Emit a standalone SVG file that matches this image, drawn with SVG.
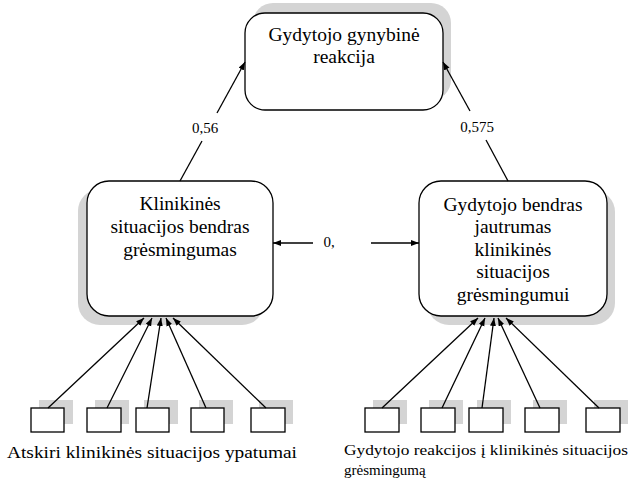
<svg xmlns="http://www.w3.org/2000/svg" width="631" height="483" viewBox="0 0 631 483">
<style>
.box{fill:#fff;stroke:#000;stroke-width:1.3}
.sh{fill:#d4d4d4;stroke:none}
.t{font-family:"Liberation Serif","Times New Roman",serif;fill:#000;text-anchor:middle}
.big{font-size:19.5px}
.lbl{font-size:15px}
.edge{stroke:#000;stroke-width:1.3;fill:none}
</style>
<defs>
<marker id="ah" markerWidth="9" markerHeight="7" refX="8" refY="3" orient="auto" markerUnits="userSpaceOnUse">
<path d="M0,0 L8,3 L0,6 z" fill="#000"/>
</marker>
</defs>
<rect width="631" height="483" fill="#fff"/>

<g id="top">
<rect class="sh" x="253" y="3" width="198" height="97" rx="20"/>
<rect class="box" x="245" y="13" width="198" height="97" rx="20"/>
<text class="t big" x="344" y="41">Gydytojo gynybinė</text>
<text class="t big" x="344" y="63">reakcija</text>
</g>

<g id="left">
<rect class="sh" x="78" y="189" width="186" height="136" rx="22"/>
<rect class="box" x="87" y="181" width="186" height="135" rx="22"/>
<text class="t big" x="180" y="210">Klinikinės</text>
<text class="t big" x="180" y="233">situacijos bendras</text>
<text class="t big" x="180" y="256">grėsmingumas</text>
</g>

<g id="right">
<rect class="sh" x="427" y="190" width="188" height="135" rx="22"/>
<rect class="box" x="419" y="181" width="188" height="135" rx="22"/>
<text class="t big" x="513" y="211">Gydytojo bendras</text>
<text class="t big" x="513" y="233">jautrumas</text>
<text class="t big" x="513" y="256">klinikinės</text>
<text class="t big" x="513" y="278">situacijos</text>
<text class="t big" x="513" y="301">grėsmingumui</text>
</g>

<g id="leftItems">
<rect class="sh" x="39" y="400" width="34" height="24"/>
<rect class="sh" x="95" y="400" width="34" height="24"/>
<rect class="sh" x="144" y="400" width="34" height="24"/>
<rect class="sh" x="199" y="400" width="34" height="24"/>
<rect class="sh" x="259" y="400" width="34" height="24"/>
<rect class="box" x="31" y="408" width="33" height="24"/>
<rect class="box" x="87" y="408" width="34" height="24"/>
<rect class="box" x="136" y="408" width="33" height="24"/>
<rect class="box" x="191" y="408" width="33" height="24"/>
<rect class="box" x="251" y="408" width="34" height="24"/>
</g>

<g id="rightItems">
<rect class="sh" x="373" y="400" width="34" height="24"/>
<rect class="sh" x="429" y="400" width="34" height="24"/>
<rect class="sh" x="477" y="400" width="34" height="24"/>
<rect class="sh" x="533" y="400" width="34" height="24"/>
<rect class="sh" x="594" y="400" width="34" height="24"/>
<rect class="box" x="365" y="408" width="34" height="24"/>
<rect class="box" x="421" y="408" width="34" height="24"/>
<rect class="box" x="469" y="408" width="34" height="24"/>
<rect class="box" x="525" y="408" width="34" height="24"/>
<rect class="box" x="586" y="408" width="34" height="24"/>
</g>

<g id="connectors">
<line class="edge" x1="180" y1="181" x2="202" y2="141"/>
<line class="edge" x1="217" y1="113" x2="245" y2="62" marker-end="url(#ah)"/>
<line class="edge" x1="508" y1="181" x2="486" y2="140"/>
<line class="edge" x1="470" y1="111" x2="443" y2="62" marker-end="url(#ah)"/>
<line class="edge" x1="313" y1="243" x2="273" y2="243" marker-end="url(#ah)"/>
<line class="edge" x1="371" y1="243" x2="419" y2="243" marker-end="url(#ah)"/>

<line class="edge" x1="48" y1="408" x2="144" y2="318" marker-end="url(#ah)" stroke="#444"/>
<line class="edge" x1="107" y1="408" x2="152" y2="318" marker-end="url(#ah)"/>
<line class="edge" x1="147" y1="408" x2="161" y2="318" marker-end="url(#ah)"/>
<line class="edge" x1="206" y1="408" x2="166" y2="318" marker-end="url(#ah)" stroke="#555"/>
<line class="edge" x1="266" y1="408" x2="173" y2="318" marker-end="url(#ah)"/>

<line class="edge" x1="382" y1="408" x2="478" y2="318" marker-end="url(#ah)" stroke="#444"/>
<line class="edge" x1="442" y1="408" x2="485" y2="318" marker-end="url(#ah)"/>
<line class="edge" x1="482" y1="408" x2="494" y2="318" marker-end="url(#ah)"/>
<line class="edge" x1="540" y1="408" x2="498" y2="318" marker-end="url(#ah)" stroke="#555"/>
<line class="edge" x1="599" y1="408" x2="506" y2="318" marker-end="url(#ah)"/>
</g>

<g id="labels">
<text class="t lbl" x="205" y="133">0,56</text>
<text class="t lbl" x="477" y="132">0,575</text>
<text class="t lbl" x="329" y="247">0,</text>
<text class="t" x="7" y="458" style="font-size:17.5px;text-anchor:start" textLength="290" lengthAdjust="spacingAndGlyphs">Atskiri klinikinės situacijos ypatumai</text>
<text class="t" x="344" y="455" style="font-size:15px;text-anchor:start" textLength="284" lengthAdjust="spacingAndGlyphs">Gydytojo reakcijos į  klinikinės situacijos</text>
<text class="t" x="344" y="475" style="font-size:15px;text-anchor:start">grėsmingumą</text>
</g>
</svg>
